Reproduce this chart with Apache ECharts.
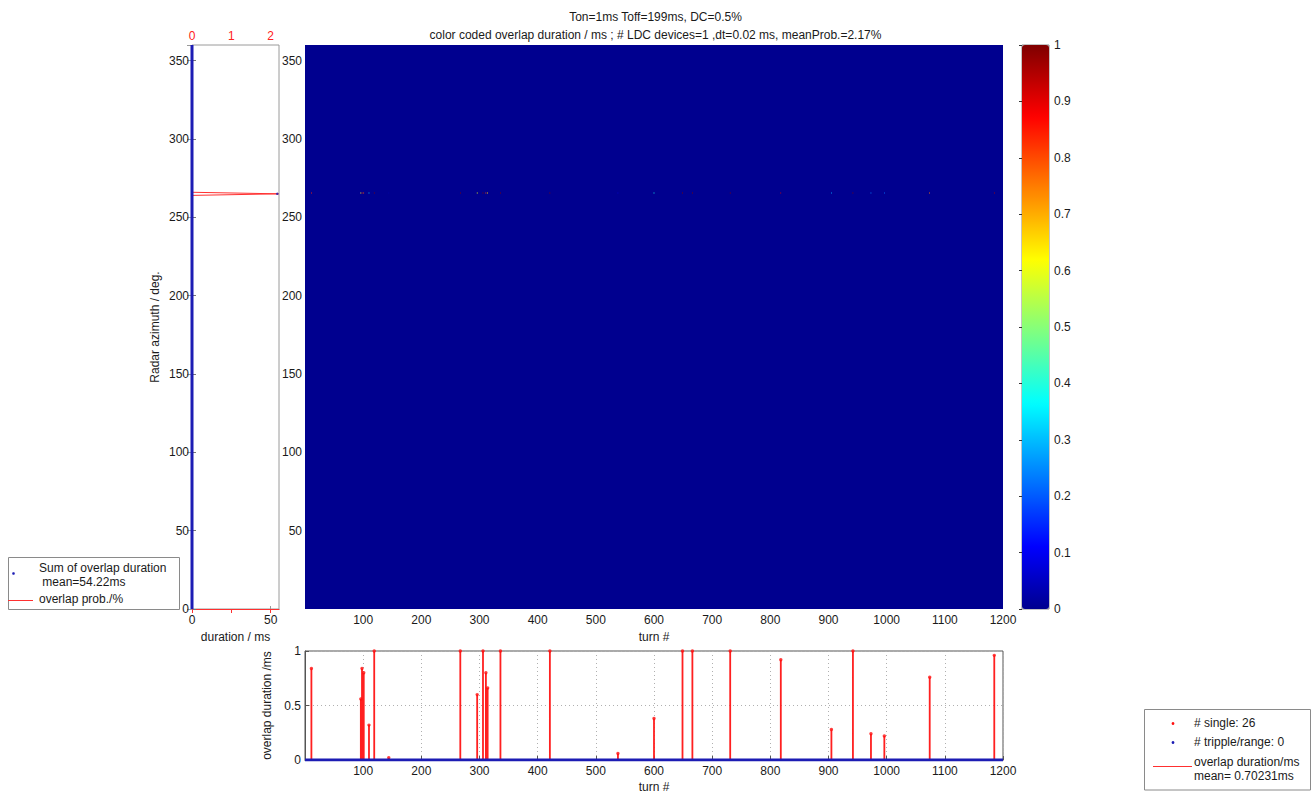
<!DOCTYPE html>
<html><head><meta charset="utf-8">
<script src="https://cdn.jsdelivr.net/npm/echarts@6/dist/echarts.min.js"></script>
<style>html,body{margin:0;padding:0;background:#fff}#c{width:1311px;height:796px}</style>
</head><body><div id="c"></div>
<script>
// ---------------- data ----------------
const titleLines = ['Ton=1ms Toff=199ms, DC=0.5%',
  'color coded overlap duration / ms ; # LDC devices=1 ,dt=0.02 ms, meanProb.=2.17%'];

// bottom panel: overlap duration per turn (single overlaps)
const stemTurns = [11, 96, 98, 101, 110, 119, 144, 267, 296, 306, 311, 314, 336, 421, 538,
                   600, 649, 666, 731, 818, 905, 942, 973, 996, 1074, 1185];
const stemVals  = [0.84, 0.56, 0.84, 0.80, 0.32, 1.0, 0.02, 1.0, 0.60, 1.0, 0.80, 0.66, 1.0, 1.0, 0.06,
                   0.38, 1.0, 1.0, 1.0, 0.92, 0.28, 1.0, 0.24, 0.22, 0.76, 0.96];
const tripleRange = [0, 1200];   // triple/range count along all turns (value 0)
const tripleVal = 0;

// heatmap: non-zero cells (turn, azimuth, overlap duration); rest of field = 0
const heatTurns = [11, 96, 98, 101, 110, 119, 144, 267, 296, 306, 311, 314, 336, 421, 538,
                   600, 649, 666, 731, 818, 905, 942, 973, 996, 1074, 1185];
const heatAz    = [265, 265, 265, 265, 265, 265, 265, 265, 265, 265, 265, 265, 265, 265, 265,
                   265, 265, 265, 265, 265, 265, 265, 265, 265, 265, 265];
const heatVals  = [0.84, 0.56, 0.84, 0.80, 0.32, 1.0, 0.02, 1.0, 0.60, 1.0, 0.80, 0.66, 1.0, 1.0, 0.06,
                   0.38, 1.0, 1.0, 1.0, 0.92, 0.28, 1.0, 0.24, 0.22, 0.76, 0.96];
const heatFieldTurns = [0, 1200];
const heatFieldAz = [0, 360];
const heatFieldVal = 0;

// left panel: sum of overlap duration per azimuth & overlap probability
const sumZeroAz = [0, 360];      // azimuths whose summed duration is 0
const sumPeakAz = [265];
const sumPeakVal = [54.22];
const probAz  = [0, 264, 265, 266, 360];
const probVal = [0, 0, 2.2, 0, 0];

// axis tick settings
const azTicks = 50, turnTicks = 100, cbTicks = 0.1;

// ---------------- helpers ----------------
function jet64() {
  const c = [];
  const cl = v => Math.max(0, Math.min(1, v));
  for (let i = 1; i <= 64; i++) {
    const r = cl(Math.min((i - 24) / 16, (72 - i) / 16));
    const g = cl(Math.min((i - 8) / 16, (56 - i) / 16));
    const b = cl(Math.min(0.5 + i / 16, (40 - i) / 16));
    const h = x => Math.round(x * 255).toString(16).padStart(2, '0');
    c.push('#' + h(r) + h(g) + h(b));
  }
  return c;
}
const FONT = 'Liberation Sans, Arial, Helvetica, sans-serif';
const TXT = '#1a1a1a';
const lbl = (extra) => Object.assign({fontFamily: FONT, fontSize: 12, color: TXT}, extra || {});

const heatData = [[heatFieldTurns[0], heatFieldTurns[1], heatFieldAz[0], heatFieldAz[1], heatFieldVal]];
for (let i = 0; i < heatTurns.length; i++) {
  heatData.push([heatTurns[i] - 0.5, heatTurns[i] + 0.5, heatAz[i], heatAz[i] + 1, heatVals[i]]);
}
const stemLine = [];
stemTurns.forEach((t, i) => { stemLine.push([t, 0], [t, stemVals[i]], [t, 0]); });
const stemDots = stemTurns.map((t, i) => [t, stemVals[i]]);

function renderHeat(params, api) {
  const p0 = api.coord([api.value(0), api.value(3)]);
  const p1 = api.coord([api.value(1), api.value(2)]);
  return {type: 'rect', shape: {x: p0[0], y: p0[1], width: p1[0] - p0[0], height: p1[1] - p0[1]},
          style: {fill: api.visual('color')}};
}

const hideMin = v => (v === 0 ? '' : String(v));

const chart = echarts.init(document.getElementById('c'), null, {renderer: 'svg'});
chart.setOption({
  animation: false,
  backgroundColor: '#fff',
  title: {
    text: titleLines.join('\n'), left: 'center', top: 3,
    textStyle: {fontFamily: FONT, fontSize: 12, fontWeight: 'normal', color: TXT, lineHeight: 18}
  },
  grid: [
    {left: 192, top: 45, width: 87, height: 564, show: true, borderColor: '#9a9a9a', borderWidth: 1, backgroundColor: '#fff'},
    {left: 305, top: 45, width: 698, height: 564, show: false},
    {left: 305, top: 651, width: 698, height: 109, show: true, borderColor: '#555', borderWidth: 1},
    {left: 1022, top: 45, width: 27, height: 564, show: true, borderColor: '#888', borderWidth: 1}
  ],
  xAxis: [
    {gridIndex: 0, type: 'value', position: 'bottom', min: 0, max: 55.3, interval: 50,
     axisLine: {lineStyle: {color: '#9a9a9a'}}, axisTick: {inside: true, length: 3, lineStyle: {color: '#9a9a9a'}},
     axisLabel: lbl({margin: 5, showMaxLabel: false}), splitLine: {show: false},
     name: 'duration / ms', nameLocation: 'middle', nameGap: 21, nameTextStyle: lbl()},
    {gridIndex: 0, type: 'value', position: 'top', min: 0, max: 2.212, interval: 1,
     axisLine: {lineStyle: {color: '#ff3030'}}, axisTick: {inside: true, length: 4, lineStyle: {color: '#ff3030'}},
     axisLabel: lbl({margin: 3, color: '#ff2020', showMaxLabel: false}), splitLine: {show: false}},
    {gridIndex: 1, type: 'value', min: 0, max: 1200, interval: turnTicks,
     axisLine: {show: false}, axisTick: {show: false},
     axisLabel: lbl({margin: 5, formatter: hideMin}), splitLine: {show: false},
     name: 'turn #', nameLocation: 'middle', nameGap: 21, nameTextStyle: lbl()},
    {gridIndex: 2, type: 'value', min: 0, max: 1200, interval: turnTicks,
     axisLine: {lineStyle: {color: '#555'}}, axisTick: {inside: true, length: 4, lineStyle: {color: '#555'}},
     axisLabel: lbl({margin: 5, formatter: hideMin}),
     splitLine: {show: true, lineStyle: {type: [1, 3], color: '#b0b0b0'}},
     name: 'turn #', nameLocation: 'middle', nameGap: 21, nameTextStyle: lbl()},
    {gridIndex: 3, type: 'value', show: false, min: 0, max: 1}
  ],
  yAxis: [
    {gridIndex: 0, type: 'value', min: 0, max: 360, interval: azTicks,
     axisLine: {show: false}, axisTick: {inside: true, length: 4, lineStyle: {color: '#777'}},
     axisLabel: lbl({margin: 3, showMaxLabel: false}), splitLine: {show: false},
     name: 'Radar azimuth / deg.', nameLocation: 'middle', nameGap: 31, nameTextStyle: lbl()},
    {gridIndex: 0, type: 'value', position: 'right', min: 0, max: 360, interval: azTicks,
     axisLine: {show: false}, axisTick: {inside: true, length: 5, lineStyle: {color: '#9a9a9a'}},
     axisLabel: {show: false}, splitLine: {show: false}},
    {gridIndex: 1, type: 'value', min: 0, max: 360, interval: azTicks,
     axisLine: {show: false}, axisTick: {show: false},
     axisLabel: lbl({margin: 3, formatter: hideMin, showMaxLabel: false}), splitLine: {show: false}},
    {gridIndex: 2, type: 'value', min: 0, max: 1, interval: 0.5,
     axisLine: {lineStyle: {color: '#555'}}, axisTick: {inside: true, length: 4, lineStyle: {color: '#555'}},
     axisLabel: lbl({margin: 4}),
     splitLine: {show: true, lineStyle: {type: [1, 3], color: '#b0b0b0'}},
     name: 'overlap duration /ms', nameLocation: 'middle', nameGap: 28, nameTextStyle: lbl()},
    {gridIndex: 3, type: 'value', position: 'right', min: 0, max: 1, interval: cbTicks,
     axisLine: {show: false}, axisTick: {inside: true, length: 3, lineStyle: {color: '#333'}},
     axisLabel: lbl({margin: 5}), splitLine: {show: false}, z: 10}
  ],
  visualMap: {
    type: 'continuous', min: 0, max: 1, seriesIndex: 0, dimension: 4,
    inRange: {color: jet64()}, calculable: false, hoverLink: false,
    left: 1022, top: 45, itemWidth: 27, itemHeight: 564, padding: 0, text: null,
    orient: 'vertical', textStyle: {color: 'transparent'}
  },
  series: [
    {type: 'custom', xAxisIndex: 2, yAxisIndex: 2, renderItem: renderHeat, data: heatData,
     encode: {x: [0, 1], y: [2, 3]}, clip: true, silent: true},
    // left panel: probability line (top axis), sum dots (bottom axis)
    {type: 'line', xAxisIndex: 1, yAxisIndex: 0, data: probAz.map((a, i) => [probVal[i], a]),
     showSymbol: false, lineStyle: {color: '#ff3030', width: 1}, silent: true, z: 3},
    {type: 'line', xAxisIndex: 0, yAxisIndex: 0, data: sumZeroAz.map(a => [0, a]),
     showSymbol: false, lineStyle: {color: '#1c1cb4', width: 3}, silent: true, z: 4},
    {type: 'scatter', xAxisIndex: 0, yAxisIndex: 0, data: sumPeakAz.map((a, i) => [sumPeakVal[i], a]),
     symbol: 'circle', symbolSize: 2.5, itemStyle: {color: '#1c1cb4'}, silent: true, z: 4},
    // bottom panel
    {type: 'line', xAxisIndex: 3, yAxisIndex: 3, data: stemLine, showSymbol: false,
     lineStyle: {color: '#ff2020', width: 1.8}, silent: true, z: 3},
    {type: 'scatter', xAxisIndex: 3, yAxisIndex: 3, data: stemDots, symbol: 'circle', symbolSize: 3.4,
     itemStyle: {color: '#ff1010'}, silent: true, z: 4},
    {type: 'line', xAxisIndex: 3, yAxisIndex: 3, data: tripleRange.map(t => [t, tripleVal]), showSymbol: false,
     lineStyle: {color: '#1c1cb4', width: 3}, silent: true, z: 5}
  ],
  graphic: [
    // left legend
    {type: 'rect', shape: {x: 8.5, y: 557.5, width: 171, height: 52}, style: {fill: '#fff', stroke: '#8a8a8a', lineWidth: 1}},
    {type: 'circle', shape: {cx: 13.5, cy: 573.5, r: 1.3}, style: {fill: '#1c1cb4'}},
    {type: 'text', x: 39, y: 568, style: {text: 'Sum of overlap duration', font: '12px ' + FONT, fill: TXT, textVerticalAlign: 'middle'}},
    {type: 'text', x: 39, y: 582, style: {text: ' mean=54.22ms', font: '12px ' + FONT, fill: TXT, textVerticalAlign: 'middle'}},
    {type: 'line', shape: {x1: 8, y1: 600.5, x2: 33, y2: 600.5}, style: {stroke: '#ff3030', lineWidth: 1}},
    {type: 'text', x: 39, y: 599, style: {text: 'overlap prob./%', font: '12px ' + FONT, fill: TXT, textVerticalAlign: 'middle'}},
    // bottom-right legend
    {type: 'rect', shape: {x: 1144.5, y: 709.5, width: 166, height: 80.5}, style: {fill: '#fff', stroke: '#8a8a8a', lineWidth: 1}},
    {type: 'circle', shape: {cx: 1173, cy: 723.5, r: 1.4}, style: {fill: '#ff1010'}},
    {type: 'text', x: 1194, y: 723, style: {text: '# single: 26', font: '12px ' + FONT, fill: TXT, textVerticalAlign: 'middle'}},
    {type: 'circle', shape: {cx: 1173, cy: 742.5, r: 1.4}, style: {fill: '#1c1cb4'}},
    {type: 'text', x: 1194, y: 742, style: {text: '# tripple/range: 0', font: '12px ' + FONT, fill: TXT, textVerticalAlign: 'middle'}},
    {type: 'line', shape: {x1: 1153, y1: 766.5, x2: 1192, y2: 766.5}, style: {stroke: '#ff3030', lineWidth: 1}},
    {type: 'text', x: 1194, y: 762, style: {text: 'overlap duration/ms', font: '12px ' + FONT, fill: TXT, textVerticalAlign: 'middle'}},
    {type: 'text', x: 1194, y: 776, style: {text: 'mean= 0.70231ms', font: '12px ' + FONT, fill: TXT, textVerticalAlign: 'middle'}}
  ]
});
</script></body></html>
